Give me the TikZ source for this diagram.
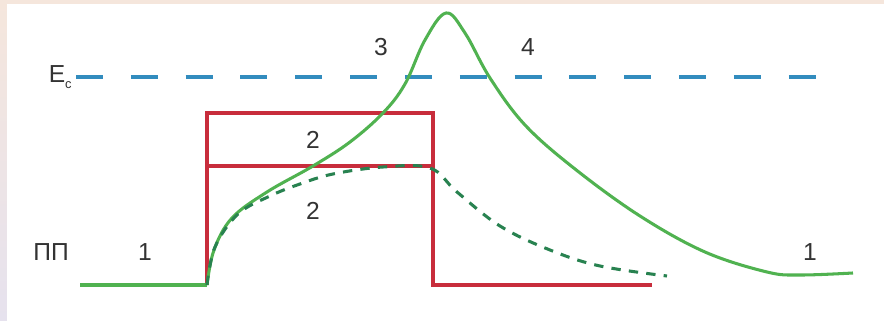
\documentclass[tikz,border=0pt]{standalone}
\usepackage{fontspec}
\setmainfont{Liberation Sans}
\definecolor{frametop}{RGB}{245,230,220}
\definecolor{framebot}{RGB}{230,226,238}
\definecolor{levelred}{RGB}{200,45,60}
\definecolor{curvegreen}{RGB}{80,178,80}
\definecolor{dashgreen}{RGB}{40,130,80}
\definecolor{ecblue}{RGB}{50,140,190}
\begin{document}
\begin{tikzpicture}[x=0.03cm,y=-0.03cm,
  lbl/.style={text=black!80,font=\fontsize{21}{22}\selectfont,inner sep=0pt},
  level/.style={line width=2.6pt,levelred},
  band/.style={line width=2.6pt,ecblue,dash pattern=on 23pt off 23.8pt},
  solidcurve/.style={line width=2.6pt,curvegreen,line join=round},
  dashcurve/.style={line width=2.6pt,dashgreen,dash pattern=on 8pt off 7pt}]
  % frame and panel
  \useasboundingbox (0,0) rectangle (884,321);
  \shade[top color=frametop,bottom color=framebot] (0,0) rectangle (884,321);
  \fill[frametop] (0,0) rectangle (884,4);
  \fill[white] (7,4) rectangle (884,321);

  % conduction band edge
  \coordinate (ecstart) at (76,77);
  \coordinate (ecend) at (820,77);
  \draw[band] (ecstart) -- (ecend);
  \node[lbl,anchor=east] (ec) at (ecstart) {E\raisebox{-0.45ex}{\fontsize{11}{12}\selectfont c}\,};

  % levels of the barrier
  \coordinate (bl) at (207,285);
  \coordinate (tl) at (207,113);
  \coordinate (tr) at (433,113);
  \coordinate (br) at (433,285);
  \coordinate (ml) at (207,166);
  \coordinate (mr) at (433,166);
  \coordinate (end) at (652,285);
  \draw[level] (bl) -- (tl) -- (tr) -- (br) -- (end);
  \draw[level] (ml) -- (mr);

  % profiles
  \coordinate (start) at (80,285);
  \draw[solidcurve] (start) -- (bl);
  \draw[solidcurve] plot[smooth,tension=0.6] coordinates {(207,285) (214,250) (232,218)
    (267,192) (313,166) (350,142) (383,113) (405,84) (425,40) (446,13) (465,33)
    (490,78) (525,125) (575,169) (640,216) (705,252) (767,272) (800,275) (853,273)};
  \draw[dashcurve] plot[smooth,tension=0.6] coordinates {(207,285) (215,247) (238,214)
    (270,196) (300,184) (333,174) (383,167) (430,168) (457,192) (500,226) (550,250)
    (600,266) (667,276)};

  % labels
  \node[lbl] (pp) at (51,252) {ПП};
  \node[lbl] (leftone) at (145,252) {1};
  \node[lbl] (uppertwo) at (313,140) {2};
  \node[lbl] (lowertwo) at (313,211) {2};
  \node[lbl] (three) at (381,47) {3};
  \node[lbl] (four) at (528,47) {4};
  \node[lbl] (rightone) at (810,252) {1};
\end{tikzpicture}
\end{document}
